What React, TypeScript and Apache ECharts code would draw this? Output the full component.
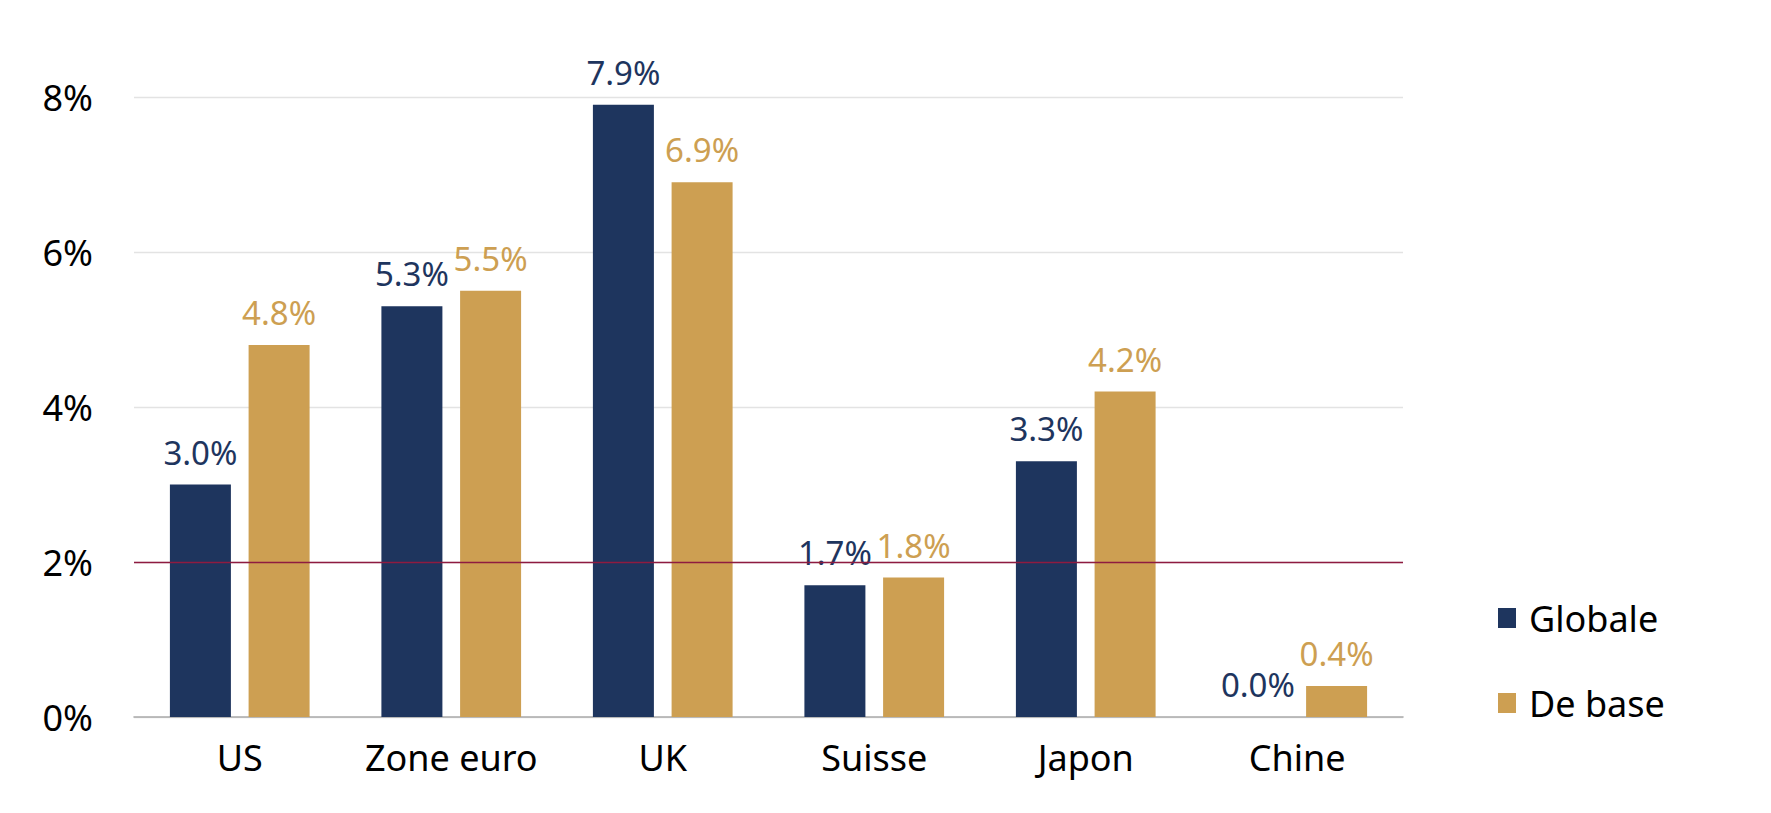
import React, { useEffect, useRef } from "react";
import * as echarts from "echarts";

const categories = ["US", "Zone euro", "UK", "Suisse", "Japon", "Chine"];
const globale = [3.0, 5.3, 7.9, 1.7, 3.3, 0.0];
const deBase = [4.8, 5.5, 6.9, 1.8, 4.2, 0.4];
const seriesNames = ["Globale", "De base"];
const targetLevel = 2;

const NAVY = "#1E355E";
const GOLD = "#CD9F52";
const RED = "#8E1B40";
const FONT = "Noto Sans";

export default function App() {
  const ref = useRef<HTMLDivElement>(null);

  useEffect(() => {
    document.body.style.margin = "0";
    const chart = echarts.init(ref.current!, null, { renderer: "svg" });
    const labelFmt = (p: any) => Number(p.value).toFixed(1) + "%";
    chart.setOption({
      animation: false,
      backgroundColor: "#ffffff",
      textStyle: { fontFamily: FONT },
      grid: { left: 134, right: 368, top: 97, bottom: 96, containLabel: false },
      legend: {
        orient: "vertical",
        left: 1498,
        top: 600,
        padding: 0,
        itemWidth: 18,
        itemHeight: 20,
        itemGap: 49,
        icon: "rect",
        data: seriesNames,
        textStyle: {
          fontFamily: FONT,
          fontSize: 36,
          lineHeight: 36,
          color: "#000",
          padding: [0, 0, 0, 8],
        },
      },
      xAxis: {
        type: "category",
        data: categories,
        axisTick: { show: false },
        axisLine: { lineStyle: { color: "#ABABAB", width: 1.6 } },
        axisLabel: {
          interval: 0,
          fontFamily: FONT,
          fontSize: 36,
          color: "#000",
          margin: 22,
        },
      },
      yAxis: {
        type: "value",
        min: 0,
        max: 8,
        interval: 2,
        axisLine: { show: false },
        axisTick: { show: false },
        axisLabel: {
          formatter: "{value}%",
          fontFamily: FONT,
          fontSize: 36,
          color: "#000",
          margin: 41,
        },
        splitLine: { lineStyle: { color: "#E3E3E3", width: 1.3 } },
      },
      series: [
        {
          name: seriesNames[0],
          type: "bar",
          data: globale,
          barWidth: 61,
          barGap: "29%",
          itemStyle: { color: NAVY },
          label: {
            show: true,
            position: "top",
            distance: 16,
            formatter: labelFmt,
            fontFamily: FONT,
            fontSize: 33,
            color: NAVY,
          },
          markLine: {
            silent: true,
            symbol: ["none", "none"],
            label: { show: false },
            lineStyle: { color: RED, width: 1.3, type: "solid" },
            data: [{ yAxis: targetLevel }],
          },
          z: 2,
        },
        {
          name: seriesNames[1],
          type: "bar",
          data: deBase,
          barWidth: 61,
          barGap: "29%",
          itemStyle: { color: GOLD },
          label: {
            show: true,
            position: "top",
            distance: 16,
            formatter: labelFmt,
            fontFamily: FONT,
            fontSize: 33,
            color: GOLD,
          },
          z: 2,
        },
      ],
    });
    return () => chart.dispose();
  }, []);

  return (
    <div
      ref={ref}
      style={{ position: "absolute", left: 0, top: 0, width: 1771, height: 813 }}
    />
  );
}
